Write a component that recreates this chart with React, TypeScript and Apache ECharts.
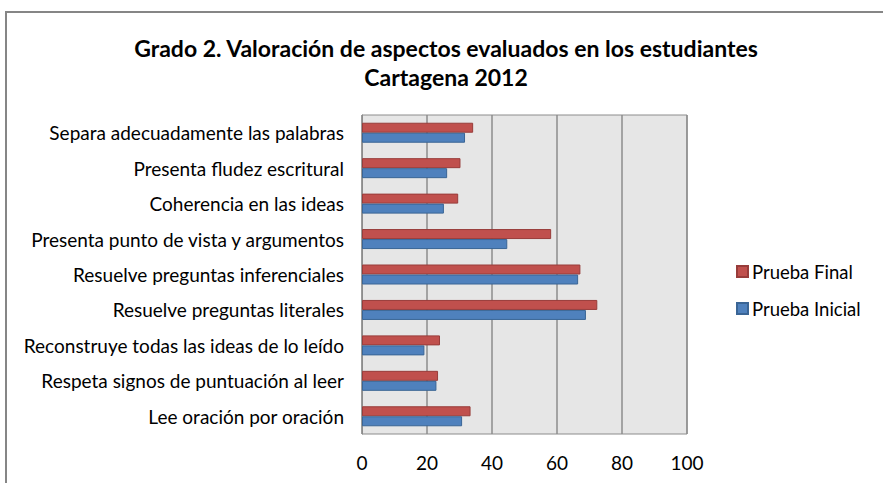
import React, { useEffect, useRef } from "react";
import * as echarts from "echarts";

const categories = [
  "Lee oración por oración",
  "Respeta signos de puntuación al leer",
  "Reconstruye todas las ideas de lo leído",
  "Resuelve preguntas literales",
  "Resuelve preguntas inferenciales",
  "Presenta punto de vista y argumentos",
  "Coherencia en las ideas",
  "Presenta fludez escritural",
  "Separa adecuadamente las palabras",
];
const pruebaInicial = [30.8, 22.9, 19.2, 68.9, 66.5, 44.7, 25.2, 26.2, 31.7];
const pruebaFinal = [33.4, 23.4, 24.0, 72.4, 67.2, 58.2, 29.6, 30.3, 34.2];
const xTicks = [0, 20, 40, 60, 80, 100];

const FONT = "Lato";

export default function App() {
  const ref = useRef<HTMLDivElement>(null);
  useEffect(() => {
    const chart = echarts.init(ref.current!, null, { renderer: "svg" });
    chart.setOption({
      animation: false,
      backgroundColor: "#ffffff",
      title: {
        text: "Grado 2. Valoración de aspectos evaluados en los estudiantes\nCartagena 2012",
        left: 446,
        textAlign: "center",
        top: 33,
        padding: 0,
        textStyle: {
          fontFamily: FONT,
          fontWeight: "bold",
          fontSize: 23,
          lineHeight: 29,
          color: "#000",
        },
      },
      graphic: [
        {
          type: "rect",
          shape: { x: 6, y: 12, width: 900, height: 500 },
          style: { fill: "none", stroke: "#868686", lineWidth: 2 },
          silent: true,
        },
      ],
      legend: {
        orient: "vertical",
        left: 736,
        top: 262,
        padding: 0,
        icon: "rect",
        itemWidth: 11,
        itemHeight: 11,
        itemGap: 18,
        data: ["Prueba Final", "Prueba Inicial"],
        textStyle: { fontFamily: FONT, fontSize: 18.5, color: "#000", padding: [0, 0, 0, -1] },
      },
      grid: {
        left: 362,
        top: 115,
        width: 325,
        height: 319,
        show: true,
        backgroundColor: "#e6e6e6",
        borderColor: "#8c8c8c",
        borderWidth: 1,
      },
      xAxis: {
        type: "value",
        min: xTicks[0],
        max: xTicks[xTicks.length - 1],
        interval: 20,
        axisLine: { show: false },
        axisTick: { show: false },
        splitLine: { show: true, lineStyle: { color: "#8c8c8c", width: 1.5 } },
        axisLabel: {
          fontFamily: FONT,
          fontSize: 19,
          color: "#000",
          margin: 19,
        },
      },
      yAxis: {
        type: "category",
        data: categories,
        axisLine: { show: true, lineStyle: { color: "#8c8c8c" } },
        axisTick: { show: false },
        axisLabel: {
          fontFamily: FONT,
          fontSize: 19,
          color: "#000",
          margin: 18,
        },
      },
      series: [
        {
          name: "Prueba Final",
          type: "bar",
          data: pruebaFinal,
          barWidth: 10,
          barGap: "0%",
          itemStyle: { color: "#c0504d", borderColor: "#983c3a", borderWidth: 1 },
        },
        {
          name: "Prueba Inicial",
          type: "bar",
          data: pruebaInicial,
          barWidth: 10,
          barGap: "0%",
          itemStyle: { color: "#4f81bd", borderColor: "#3a6595", borderWidth: 1 },
        },
      ],
    });
    return () => chart.dispose();
  }, []);
  return (
    <div
      ref={ref}
      style={{ position: "absolute", left: 0, top: 0, width: 883, height: 483 }}
    />
  );
}
